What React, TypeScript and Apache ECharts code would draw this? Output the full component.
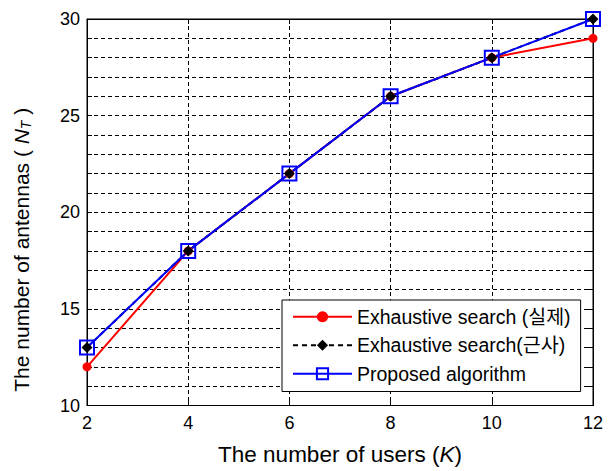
import React, { useEffect, useRef } from "react";
import * as echarts from "echarts";

const users = [2, 4, 6, 8, 10, 12];
const exhaustiveReal = [12, 18, 22, 26, 28, 29];
const exhaustiveApprox = [13, 18, 22, 26, 28, 30];
const proposed = [13, 18, 22, 26, 28, 30];
const seriesNames = ["Exhaustive search (실제)", "Exhaustive search(근사)", "Proposed algorithm"];

const FONT = "'Liberation Sans', Arial, 'Noto Sans CJK KR', sans-serif";

export default function App() {
  const ref = useRef<HTMLDivElement>(null);
  useEffect(() => {
    if (!ref.current) return;
    const chart = echarts.init(ref.current, null, { renderer: "svg" });
    const pair = (ys: number[]) => users.map((x, i) => [x, ys[i]]);
    const dash = { type: [4, 3] as any, color: "#000", width: 1 };
    chart.setOption({
      animation: false,
      backgroundColor: "#fff",
      textStyle: { fontFamily: FONT },
      grid: { left: 87, right: 20, top: 19, bottom: 63, show: true, borderColor: "#000", borderWidth: 1, backgroundColor: "#fff" },
      xAxis: [
        {
          type: "value", min: 2, max: 12, interval: 2,
          axisLine: { show: true, lineStyle: { color: "#000", width: 1 } },
          axisTick: { show: true, inside: true, length: 5, lineStyle: { color: "#000" } },
          axisLabel: { color: "#000", fontSize: 18, margin: 8, fontFamily: FONT },
          splitLine: { show: true, lineStyle: dash },
          name: "The number of users ({it|K})",
          nameLocation: "middle",
          nameGap: 38,
          nameTextStyle: { color: "#000", fontSize: 22.5, fontFamily: FONT, rich: { it: { fontStyle: "italic", fontSize: 22.5, fontFamily: FONT, color: "#000" } } },
        },
        {
          type: "value", min: 2, max: 12, interval: 2, position: "top",
          axisLine: { show: true, lineStyle: { color: "#000" } },
          axisTick: { show: true, inside: true, length: 5, lineStyle: { color: "#000" } },
          axisLabel: { show: false }, splitLine: { show: false },
        },
      ],
      yAxis: [
        {
          type: "value", min: 10, max: 30, interval: 1,
          axisLine: { show: true, lineStyle: { color: "#000", width: 1 } },
          axisTick: { show: true, inside: true, length: 5, interval: 4, lineStyle: { color: "#000" } },
          axisLabel: { color: "#000", fontSize: 18, margin: 7, fontFamily: FONT, formatter: (v: number) => (v % 5 === 0 ? String(v) : "") },
          splitLine: { show: true, lineStyle: dash },
          name: "The number of antennas ( {it|N}{sub|T} )",
          nameLocation: "middle",
          nameGap: 66,
          nameTextStyle: {
            color: "#000", fontSize: 21, fontFamily: FONT, lineHeight: 24, verticalAlign: "middle",
            padding: [0, 75, 0, 0],
            rich: {
              it: { fontStyle: "italic", fontSize: 21, fontFamily: FONT, color: "#000", lineHeight: 24 },
              sub: { fontStyle: "italic", fontSize: 14, fontFamily: FONT, color: "#000", lineHeight: 12, verticalAlign: "bottom" },
            },
          },
        },
        {
          type: "value", min: 10, max: 30, interval: 1, position: "right",
          axisLine: { show: true, lineStyle: { color: "#000" } },
          axisTick: { show: true, inside: true, length: 5, interval: 4, lineStyle: { color: "#000" } },
          axisLabel: { show: false }, splitLine: { show: false },
        },
      ],
      legend: {
        orient: "vertical",
        left: 282, top: 300,
        backgroundColor: "#fff",
        borderColor: "#000", borderWidth: 1, borderRadius: 0,
        padding: [7, 10, 8, 10],
        itemWidth: 59, itemHeight: 14, itemGap: 9,
        textStyle: { fontSize: 19.5, color: "#000", fontFamily: FONT },
        data: seriesNames,
      },
      series: [
        {
          name: seriesNames[0], type: "line", data: pair(exhaustiveReal),
          symbol: "circle", symbolSize: 9,
          lineStyle: { color: "#ff0000", width: 2 },
          itemStyle: { color: "#ff0000" },
        },
        {
          name: seriesNames[1], type: "line", data: pair(exhaustiveApprox),
          symbol: "diamond", symbolSize: 11,
          lineStyle: { color: "#000", width: 2, type: [5, 4] as any },
          itemStyle: { color: "#000" },
        },
        {
          name: seriesNames[2], type: "line", data: pair(proposed),
          symbol: "rect", symbolSize: 14,
          lineStyle: { color: "#0000ff", width: 2 },
          itemStyle: { color: "rgba(0,0,0,0)", borderColor: "#0000ff", borderWidth: 2 },
        },
      ],
    });
    return () => chart.dispose();
  }, []);
  return <div ref={ref} style={{ width: 613, height: 471, position: "absolute", left: 0, top: 0 }} />;
}
